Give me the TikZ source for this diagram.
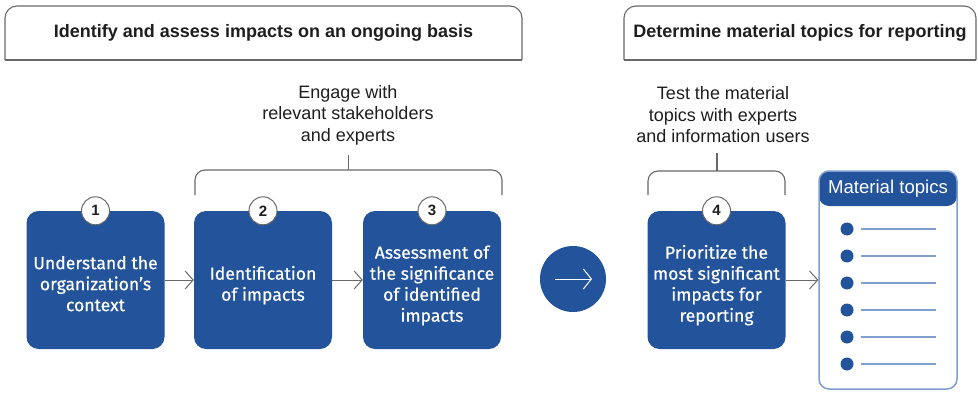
\documentclass[tikz,border=0pt]{standalone}
\usepackage{fontspec}
\setmainfont{Liberation Sans}
\newfontfamily\boxfont[FakeBold=0.5]{Fira Sans}
\usetikzlibrary{arrows.meta}
\definecolor{gblue}{RGB}{34,83,155}
\definecolor{lblue}{RGB}{128,158,208}
\definecolor{frame}{RGB}{105,105,105}
\definecolor{ink}{RGB}{30,30,30}
% lowers step text a little while keeping the node's centring
\newcommand{\steptext}[1]{\raisebox{-6pt}[\height][\depth]{\begin{tabular}{@{}c@{}}#1\end{tabular}}}

\begin{document}
\begin{tikzpicture}[x=1pt,y=-1pt,
  stepbox/.style={fill=gblue, rounded corners=12pt, minimum width=138pt,
    minimum height=138pt, inner sep=0pt, text=white, align=center,
    font=\boxfont\fontsize{17.6}{21}\selectfont},
  numcirc/.style={circle, draw=frame, fill=white, line width=1pt,
    minimum size=28pt, inner sep=0pt, text=ink,
    font=\bfseries\fontsize{15}{15}\selectfont},
  flow/.style={draw=frame, line width=1pt,
    -{Straight Barb[length=8pt,width=18pt,line width=1pt]}},
  note/.style={align=center, text=ink, font=\fontsize{18}{21.5}\selectfont},
  headtext/.style={text=ink, font=\bfseries\fontsize{18}{20}\selectfont},
  frameline/.style={draw=frame, line width=1.1pt},
  bracket/.style={draw=frame, line width=1.1pt, rounded corners=10pt}
]
\useasboundingbox (0,0) rectangle (978,396);

% phase headers
\draw[frameline, rounded corners=12pt] (5,60) -- (5,6) -- (522,6) -- (522,60);
\draw[frameline] (5,60) -- (522,60);
\node[headtext] (h1) at (263.5,33) {Identify and assess impacts on an ongoing basis};

\draw[frameline, rounded corners=12pt] (624,60) -- (624,6) -- (976,6) -- (976,60);
\draw[frameline] (624,60) -- (976,60);
\node[headtext] (h2) at (800,33) {Determine material topics for reporting};

% engagement notes with brackets
\node[note] (e1) at (348,115) {Engage with\\relevant stakeholders\\and experts};
\draw[bracket] (195,195) -- (195,170) -- (502,170) -- (502,195);
\draw[frameline] (348.5,170) -- (348.5,155);

\node[note] (e2) at (723,115) {Test the material\\topics with experts\\and information users};
\draw[bracket] (648,195) -- (648,171) -- (785,171) -- (785,195);
\draw[frameline] (717,171) -- (717,153);

% process steps
\node[stepbox] (b1) at (95.5,280) {\steptext{Understand the\\organization’s\\context}};
\node[stepbox] (b2) at (263,280) {\steptext{Identification\\of impacts}};
\node[stepbox] (b3) at (432,280) {\steptext{Assessment of\\the significance\\of identified\\impacts}};
\node[stepbox] (b4) at (716.5,280) {\steptext{Prioritize the\\most significant\\impacts for\\reporting}};

\node[numcirc] (n1) at (b1.north) {1};
\node[numcirc] (n2) at (b2.north) {2};
\node[numcirc] (n3) at (b3.north) {3};
\node[numcirc] (n4) at (b4.north) {4};

% transition between the two phases
\node[circle, fill=gblue, minimum size=66pt, inner sep=0pt] (go) at (573,279) {};
\coordinate (gs) at (555,279);
\coordinate (ge) at (592,279);
\draw[white, line width=1pt, -{Straight Barb[length=8pt,width=20pt,line width=1pt]}] (gs) -- (ge);

% material topics list
\node[draw=lblue, line width=1.5pt, rounded corners=10pt, minimum width=138pt,
  minimum height=218pt, inner sep=0pt,
  path picture={\fill[gblue] (path picture bounding box.north west) rectangle
    ([yshift=-35pt]path picture bounding box.north east);}] (panel) at (888,280) {};
\node[text=white, font=\fontsize{18.6}{20}\selectfont] (pt) at (888,189) {Material topics};
\foreach \yy in {229,256,283,310,337,364} {
  \fill[gblue] (847,\yy) circle (6.5pt);
  \draw[lblue, line width=2pt] (861,\yy) -- (936,\yy);
}

% connectors
\draw[flow] (b1) -- (b2);
\draw[flow] (b2) -- (b3);
\draw[flow] (b4) -- (panel);
\end{tikzpicture}
\end{document}
